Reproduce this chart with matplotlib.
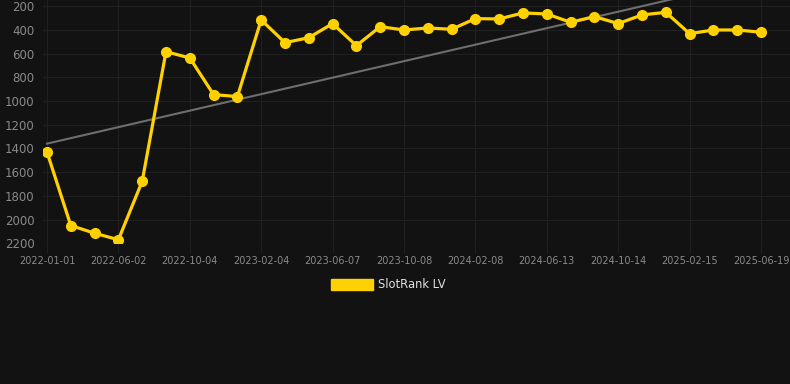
import matplotlib
matplotlib.use("Agg")
import matplotlib.pyplot as plt
import numpy as np
from matplotlib.patches import Patch

# SlotRank LV rank history (lower is better, y axis inverted)
rank = [1430, 2050, 2115, 2170, 1677, 583, 636, 945, 962, 315,
        507, 465, 346, 532, 372, 400, 383, 394, 304, 307,
        256, 265, 335, 287, 346, 273, 251, 431, 400, 400, 419]

# every third point carries a date label
tick_labels = ["2022-01-01", "2022-06-02", "2022-10-04", "2023-02-04",
               "2023-06-07", "2023-10-08", "2024-02-08", "2024-06-13",
               "2024-10-14", "2025-02-15", "2025-06-19"]
y_ticks = [200, 400, 600, 800, 1000, 1200, 1400, 1600, 1800, 2000, 2200]

bg = "#121212"
grid_col = "#202020"
tick_col = "#8a8a8a"
gold = "#FFD100"

x = np.arange(len(rank))
slope, intercept = np.polyfit(x, rank, 1)

fig = plt.figure(figsize=(7.9, 3.84), dpi=100, facecolor=bg)
ax = fig.add_axes([43 / 790, 1 - 243.3 / 384, 1 - 43 / 790, 243.3 / 384])
ax.set_facecolor(bg)

# trend line
ax.plot(x, slope * x + intercept, color="#6e6e6e", lw=1.5, zorder=2)
# main series
ax.plot(x, rank, color=gold, lw=2.3, marker="o", markersize=7,
        markerfacecolor=gold, markeredgecolor=gold, zorder=3)

ax.set_ylim(2200, 147)
ax.set_xlim(-4 / 23.8, 30 + 29 / 23.8)
ax.set_yticks(y_ticks)
ax.set_xticks(x[::3])
ax.set_xticklabels(tick_labels)

ax.grid(True, color=grid_col, lw=0.8)
ax.set_axisbelow(True)
for s in ax.spines.values():
    s.set_visible(False)
ax.tick_params(axis="x", colors=grid_col, labelcolor=tick_col, labelsize=7,
               length=7, width=0.8, pad=2)
ax.tick_params(axis="y", colors=grid_col, labelcolor=tick_col, labelsize=8.5,
               length=0, pad=6)
ax.axhline(2200, color="#2c2c2c", lw=0.8, zorder=1)

handle = Patch(facecolor=gold, edgecolor=gold)
leg = fig.legend([handle], ["SlotRank LV"], loc="center",
                 bbox_to_anchor=(0.492, 1 - 285 / 384), frameon=False,
                 fontsize=8.3, handlelength=3.6, handleheight=1.0,
                 handletextpad=0.5)
for t in leg.get_texts():
    t.set_color("#e0e0e0")

fig.savefig("out.png", dpi=100, facecolor=bg)
